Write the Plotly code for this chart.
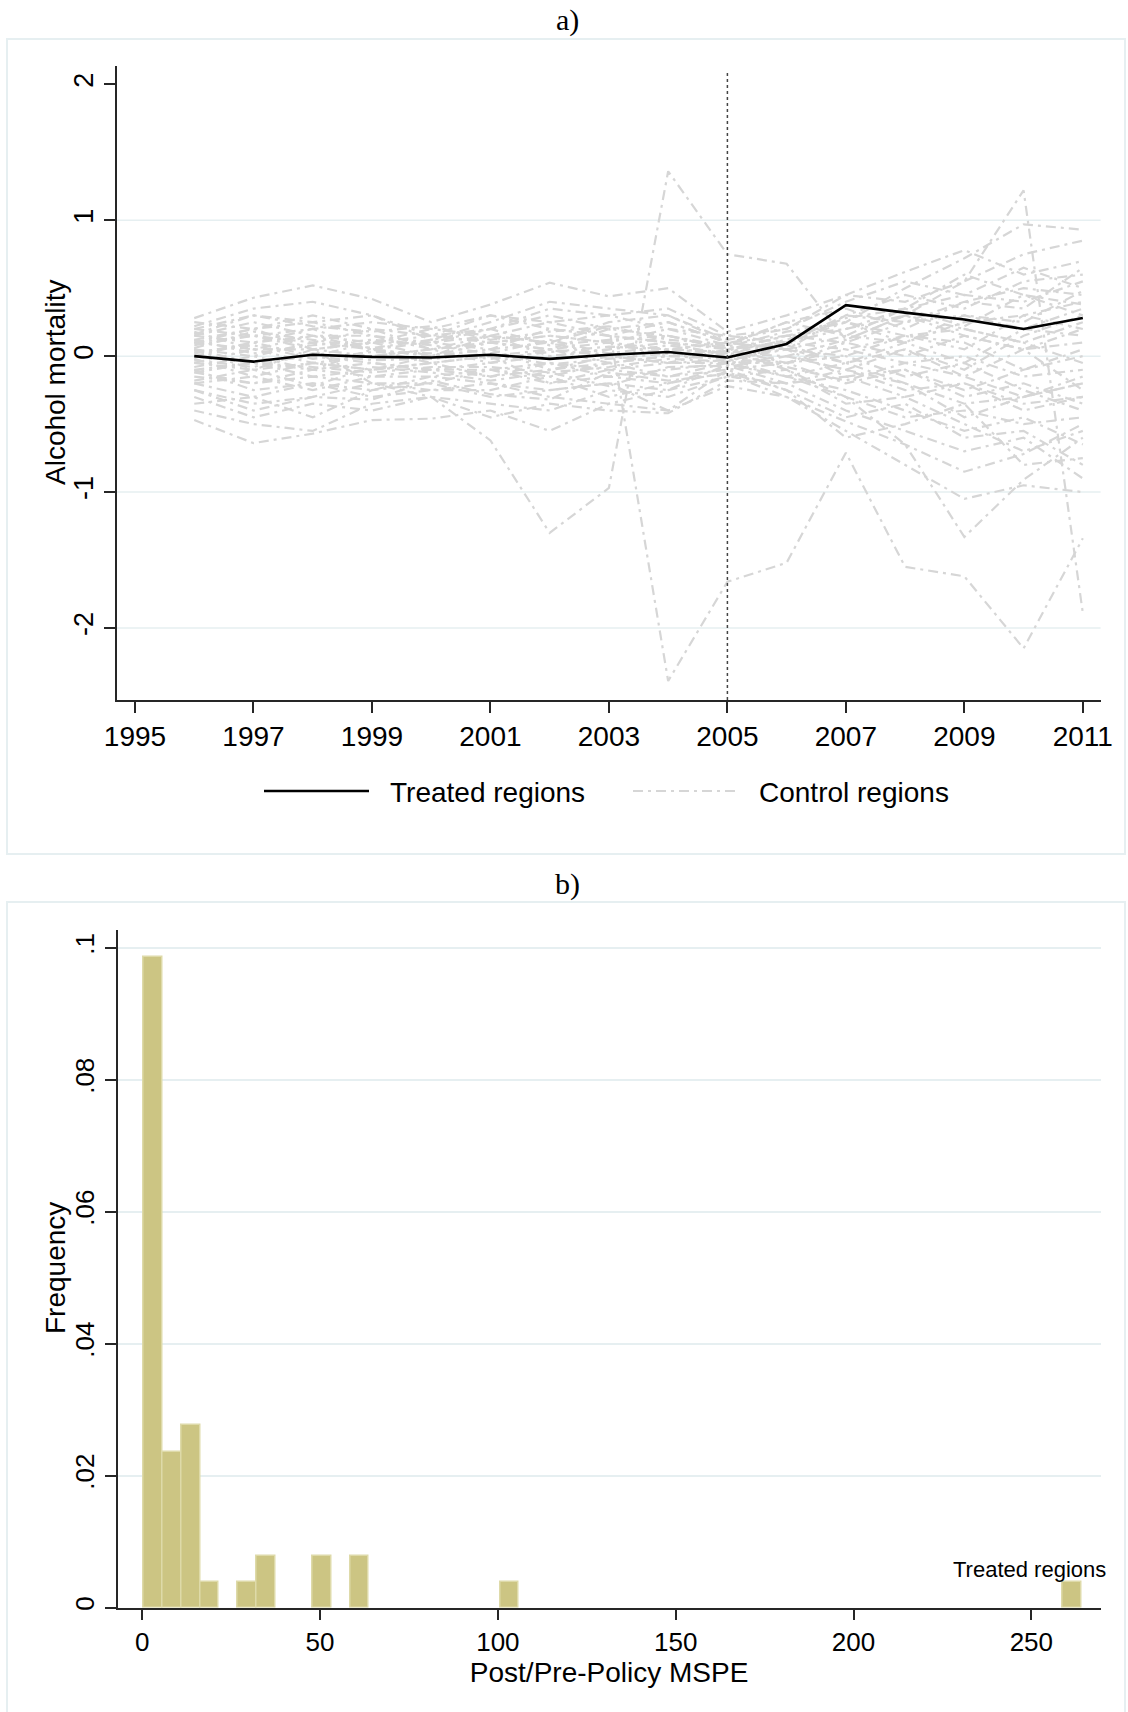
import plotly.graph_objects as go

W, H = 1128, 1712

# ---------------- Panel a data ----------------
years = list(range(1996, 2012))
treated = [0.00, -0.04, 0.01, -0.005, -0.01, 0.01, -0.02, 0.01, 0.03, -0.01, 0.09, 0.375, 0.32, 0.27, 0.20, 0.28]

ctrl_01 = [0.28, 0.43, 0.52, 0.42, 0.25, 0.38, 0.54, 0.44, 0.50, 0.18, 0.30, 0.45, 0.62, 0.78, 0.60, 0.70]
ctrl_02 = [-0.47, -0.64, -0.57, -0.47, -0.46, -0.40, -0.55, -0.35, -0.40, -0.22, -0.30, -0.55, -0.80, -1.05, -0.95, -1.00]
ctrl_03 = [0.05, -0.10, 0.05, -0.20, -0.30, -0.62, -1.30, -0.97, 1.36, 0.75, 0.68, 0.12, 0.30, 0.20, 0.10, 0.25]
ctrl_04 = [0.10, 0.20, 0.05, 0.10, 0.00, 0.15, 0.10, 0.22, -2.39, -1.66, -1.52, -0.71, -1.55, -1.62, -2.15, -1.34]
ctrl_05 = [-0.10, -0.05, -0.15, -0.10, -0.05, 0.00, -0.20, -0.10, -0.05, 0.05, -0.10, -0.30, -0.65, -1.33, -0.91, -0.60]
ctrl_06 = [0.15, 0.10, 0.20, 0.05, 0.10, 0.20, 0.30, 0.20, 0.25, 0.10, 0.15, 0.20, 0.30, 0.55, 1.22, -1.89]
ctrl_07 = [0.20, 0.30, 0.25, 0.30, 0.15, 0.20, 0.35, 0.30, 0.35, 0.15, 0.10, 0.25, 0.50, 0.72, 0.97, 0.93]
ctrl_08 = [0.22, 0.35, 0.40, 0.30, 0.12, 0.25, 0.40, 0.35, 0.30, 0.12, 0.20, 0.45, 0.40, 0.55, 0.75, 0.85]
ctrl_09 = [-0.30, -0.45, -0.35, -0.40, -0.30, -0.35, -0.40, -0.25, -0.30, -0.15, -0.20, -0.40, -0.55, -0.70, -0.60, -0.90]
ctrl_10 = [-0.35, -0.30, -0.45, -0.25, -0.20, -0.30, -0.25, -0.20, -0.40, -0.10, -0.25, -0.60, -0.50, -0.35, -0.80, -0.75]
ctrl_11 = [0.10, 0.15, 0.10, 0.20, 0.05, 0.10, 0.15, 0.10, 0.20, 0.08, 0.25, 0.35, 0.20, 0.40, 0.50, 0.45]
ctrl_12 = [-0.05, 0.05, -0.05, 0.00, 0.05, -0.05, 0.00, 0.05, 0.10, 0.00, 0.05, 0.15, 0.10, 0.25, 0.30, 0.20]
ctrl_13 = [0.05, 0.00, 0.10, 0.05, 0.00, 0.05, 0.10, 0.00, -0.05, -0.05, 0.00, -0.10, -0.25, -0.20, -0.35, -0.30]
ctrl_14 = [-0.15, -0.20, -0.10, -0.15, -0.10, -0.15, -0.05, -0.15, -0.10, -0.05, -0.15, -0.25, -0.40, -0.55, -0.45, -0.65]
ctrl_15 = [0.00, 0.10, 0.00, 0.10, 0.10, 0.05, 0.20, 0.15, 0.10, 0.05, 0.10, 0.05, 0.15, 0.10, -0.10, 0.05]
ctrl_16 = [-0.20, -0.15, -0.25, -0.15, -0.15, -0.10, -0.15, -0.05, -0.15, -0.10, -0.05, 0.00, -0.15, -0.05, -0.25, -0.40]
ctrl_17 = [0.15, 0.25, 0.15, 0.10, 0.20, 0.30, 0.20, 0.15, 0.25, 0.10, 0.05, 0.30, 0.45, 0.35, 0.55, 0.60]
ctrl_18 = [-0.10, -0.25, -0.20, -0.30, -0.25, -0.20, -0.30, -0.35, -0.25, -0.15, -0.10, -0.35, -0.30, -0.50, -0.70, -0.55]
ctrl_19 = [0.05, -0.05, 0.00, -0.05, -0.10, -0.05, 0.05, 0.00, 0.05, 0.02, 0.10, 0.20, 0.35, 0.45, 0.40, 0.55]
ctrl_20 = [-0.25, -0.35, -0.30, -0.20, -0.25, -0.25, -0.15, -0.30, -0.20, -0.08, 0.00, -0.10, -0.20, -0.35, -0.30, -0.20]
ctrl_21 = [0.18, 0.05, 0.15, 0.15, 0.05, 0.10, 0.05, 0.20, 0.15, 0.05, -0.05, -0.20, -0.10, -0.25, -0.10, 0.00]
ctrl_22 = [-0.05, -0.10, -0.05, -0.10, 0.00, 0.05, -0.10, -0.05, 0.00, -0.02, -0.15, -0.05, 0.05, -0.10, 0.15, 0.30]
ctrl_23 = [0.10, 0.05, 0.05, 0.00, 0.05, 0.15, 0.00, 0.05, 0.15, 0.05, 0.15, 0.10, 0.25, 0.30, 0.20, 0.35]
ctrl_24 = [-0.12, -0.20, -0.15, -0.20, -0.20, -0.10, -0.20, -0.15, -0.20, -0.12, -0.25, -0.45, -0.35, -0.60, -0.55, -0.80]
ctrl_25 = [0.25, 0.20, 0.30, 0.20, 0.15, 0.30, 0.25, 0.30, 0.20, 0.15, 0.20, 0.40, 0.55, 0.45, 0.65, 0.50]
ctrl_26 = [-0.40, -0.50, -0.55, -0.35, -0.30, -0.45, -0.35, -0.40, -0.42, -0.18, -0.20, -0.15, -0.30, -0.20, -0.40, -0.30]
ctrl_27 = [0.00, -0.05, -0.10, 0.05, -0.05, 0.00, 0.05, -0.05, 0.00, 0.00, -0.05, 0.10, 0.00, 0.15, 0.05, 0.10]
ctrl_28 = [0.08, 0.15, 0.05, 0.10, 0.15, 0.10, 0.15, 0.10, 0.05, 0.10, 0.05, -0.05, 0.10, -0.05, 0.20, 0.15]
ctrl_29 = [-0.08, 0.00, -0.10, -0.05, -0.10, -0.10, -0.05, -0.10, -0.15, -0.05, -0.05, 0.05, -0.05, 0.00, -0.15, -0.10]
ctrl_30 = [0.12, 0.20, 0.25, 0.15, 0.10, 0.15, 0.25, 0.15, 0.10, 0.06, 0.10, 0.30, 0.25, 0.40, 0.35, 0.65]
ctrl_31 = [-0.20, -0.30, -0.20, -0.25, -0.15, -0.20, -0.25, -0.20, -0.25, -0.06, -0.15, -0.30, -0.45, -0.40, -0.50, -0.45]
ctrl_32 = [0.02, 0.10, 0.15, 0.05, 0.00, 0.10, 0.05, 0.10, 0.00, 0.04, 0.15, 0.25, 0.15, 0.20, 0.10, -0.05]
ctrl_33 = [-0.02, -0.15, -0.05, -0.10, -0.05, -0.15, -0.10, 0.00, -0.05, -0.03, 0.05, -0.15, -0.10, -0.30, -0.20, -0.35]
ctrl_34 = [0.20, 0.15, 0.20, 0.25, 0.20, 0.15, 0.10, 0.25, 0.30, 0.10, 0.05, 0.00, 0.15, 0.05, 0.30, 0.40]
ctrl_35 = [0.03, 0.08, -0.02, 0.03, 0.02, -0.02, 0.03, 0.07, 0.05, 0.03, 0.12, 0.28, 0.35, 0.22, 0.45, 0.38]
ctrl_36 = [-0.03, -0.08, 0.02, -0.03, -0.02, 0.02, -0.06, -0.02, 0.02, -0.01, -0.08, -0.18, -0.05, -0.15, -0.30, -0.20]
ctrl_37 = [0.12, 0.02, 0.08, 0.12, 0.08, 0.02, 0.12, 0.02, 0.08, 0.02, 0.00, 0.12, 0.30, 0.15, 0.05, 0.20]
ctrl_38 = [-0.12, -0.05, -0.08, -0.12, -0.08, -0.08, -0.12, -0.08, -0.02, -0.04, 0.08, -0.05, -0.20, -0.45, -0.30, -0.15]
ctrl_39 = [0.06, 0.18, 0.12, 0.06, 0.12, 0.20, 0.08, 0.12, 0.15, 0.07, 0.18, 0.25, 0.10, 0.30, 0.25, 0.48]
ctrl_40 = [-0.18, -0.10, -0.22, -0.08, -0.12, -0.18, -0.12, -0.22, -0.08, -0.07, -0.20, -0.10, 0.05, -0.15, 0.05, -0.25]
ctrl_41 = [0.16, 0.30, 0.22, 0.18, 0.22, 0.12, 0.18, 0.22, 0.12, 0.09, 0.25, 0.15, 0.35, 0.60, 0.45, 0.30]
ctrl_42 = [-0.25, -0.40, -0.30, -0.32, -0.18, -0.28, -0.32, -0.12, -0.18, -0.13, -0.30, -0.48, -0.65, -0.85, -0.72, -0.50]

controls = [ctrl_01, ctrl_02, ctrl_03, ctrl_04, ctrl_05, ctrl_06, ctrl_07, ctrl_08, ctrl_09,
            ctrl_10, ctrl_11, ctrl_12, ctrl_13, ctrl_14, ctrl_15, ctrl_16, ctrl_17, ctrl_18,
            ctrl_19, ctrl_20, ctrl_21, ctrl_22, ctrl_23, ctrl_24, ctrl_25, ctrl_26, ctrl_27,
            ctrl_28, ctrl_29, ctrl_30, ctrl_31, ctrl_32, ctrl_33, ctrl_34, ctrl_35, ctrl_36,
            ctrl_37, ctrl_38, ctrl_39, ctrl_40, ctrl_41, ctrl_42]

policy_year = 2005
a_xticks = [1995, 1997, 1999, 2001, 2003, 2005, 2007, 2009, 2011]
a_yticks = [-2, -1, 0, 1, 2]
a_yticklabels = ["-2", "-1", "0", "1", "2"]
a_gridlines = [-2, -1, 0, 1]

# ---------------- Panel b data ----------------
bin_width = 5.27
bin_left = [0.46, 5.73, 11.00, 16.27, 26.81, 32.08, 47.89, 58.43, 100.60, 258.70]
bin_density = [0.0986, 0.0236, 0.0276, 0.0039, 0.0039, 0.0078, 0.0078, 0.0078, 0.0039, 0.0039]
b_xticks = [0, 50, 100, 150, 200, 250]
b_yticks = [0, 0.02, 0.04, 0.06, 0.08, 0.1]
b_yticklabels = ["0", ".02", ".04", ".06", ".08", ".1"]
treated_label_pos = (249.5, 0.0058)

# ---------------- helpers ----------------
def px(x):
    return x / W

def py(y):
    return 1 - y / H

SANS = "Liberation Sans, Arial, sans-serif"
SERIF = "Liberation Serif, Times New Roman, serif"
AXIS_COL = "#262626"
GRID_COL = "#e6eff1"
BOX_COL = "#e6eff1"
CTRL_COL = "#d6d6d6"
CTRL_DASH = "10px,5px,3px,5px"
BAR_FILL = "#ccc583"
BAR_LINE = "#dedaa9"

fig = go.Figure()

for series in controls:
    fig.add_trace(go.Scatter(x=years, y=series, mode="lines", xaxis="x", yaxis="y",
                             line=dict(color=CTRL_COL, width=2.2, dash=CTRL_DASH),
                             showlegend=False, hoverinfo="skip"))

fig.add_trace(go.Scatter(x=years, y=treated, mode="lines", xaxis="x", yaxis="y",
                         line=dict(color="black", width=2.6), showlegend=False))

fig.add_trace(go.Bar(x=[l + bin_width / 2 for l in bin_left], y=bin_density,
                     width=[bin_width] * len(bin_left), xaxis="x2", yaxis="y2",
                     marker=dict(color=BAR_FILL, line=dict(color=BAR_LINE, width=1.5)),
                     showlegend=False))

def axis_common(size):
    return dict(showline=True, linecolor=AXIS_COL, linewidth=1.5, ticks="outside",
                ticklen=11, tickwidth=1.5, tickcolor=AXIS_COL, zeroline=False, automargin=False,
                tickfont=dict(family=SANS, size=size, color="black"), mirror=False)

fig.update_layout(
    width=W, height=H, margin=dict(l=0, r=0, t=0, b=0, autoexpand=False),
    paper_bgcolor="white", plot_bgcolor="white", showlegend=False, bargap=0,
    xaxis=dict(domain=[px(117), px(1100.6)], range=[1994.696, 2011.30], anchor="y",
               tickvals=a_xticks, showgrid=False, **axis_common(28)),
    yaxis=dict(domain=[py(700), py(66)], range=[-2.5297, 2.1346], anchor="x",
               tickvals=a_yticks, ticktext=a_yticklabels, tickangle=-90, showgrid=False,
               **axis_common(27)),
    xaxis2=dict(domain=[px(117.5), px(1100.7)], range=[-6.95, 269.5], anchor="y2",
                tickvals=b_xticks, showgrid=False,
                title=dict(text="Post/Pre-Policy MSPE", font=dict(family=SANS, size=28, color="black"),
                           standoff=2),
                **axis_common(26)),
    yaxis2=dict(domain=[py(1607.5), py(930)], range=[0, 0.10268], anchor="x2",
                tickvals=b_yticks, ticktext=b_yticklabels, tickangle=-90,
                showgrid=True, gridcolor=GRID_COL, gridwidth=1.5,
                **axis_common(26)),
)

shapes = []
# panel borders
shapes.append(dict(type="rect", xref="paper", yref="paper", x0=px(7), x1=px(1125), y0=py(854), y1=py(39),
                   line=dict(color=BOX_COL, width=2), layer="below"))
shapes.append(dict(type="rect", xref="paper", yref="paper", x0=px(7), x1=px(1125), y0=py(1730), y1=py(902),
                   line=dict(color=BOX_COL, width=2), layer="below"))
# gridlines panel a
for g in a_gridlines:
    shapes.append(dict(type="line", xref="x domain", yref="y", x0=0, x1=1, y0=g, y1=g,
                       line=dict(color=GRID_COL, width=1.5), layer="below"))
# policy line
shapes.append(dict(type="line", xref="x", yref="y domain", x0=policy_year, x1=policy_year, y0=0, y1=0.99,
                   line=dict(color="#444444", width=1.5, dash="dot"), layer="above"))
# legend samples
shapes.append(dict(type="line", xref="paper", yref="paper", x0=px(264), x1=px(369), y0=py(791), y1=py(791),
                   line=dict(color="black", width=2.6)))
shapes.append(dict(type="line", xref="paper", yref="paper", x0=px(633), x1=px(738), y0=py(791), y1=py(791),
                   line=dict(color=CTRL_COL, width=2, dash=CTRL_DASH)))
fig.update_layout(shapes=shapes)

annotations = [
    dict(text="a)", x=px(567), y=py(20), xref="paper", yref="paper", showarrow=False,
         font=dict(family=SERIF, size=30, color="black"), xanchor="center", yanchor="middle"),
    dict(text="b)", x=px(567), y=py(884), xref="paper", yref="paper", showarrow=False,
         font=dict(family=SERIF, size=30, color="black"), xanchor="center", yanchor="middle"),
    dict(text="Alcohol mortality", x=px(55), y=py(383), xref="paper", yref="paper", showarrow=False,
         textangle=-90, font=dict(family=SANS, size=28, color="black"),
         xanchor="center", yanchor="middle"),
    dict(text="Frequency", x=px(55), y=py(1268), xref="paper", yref="paper", showarrow=False,
         textangle=-90, font=dict(family=SANS, size=28, color="black"),
         xanchor="center", yanchor="middle"),
    dict(text="Treated regions", x=px(388), y=py(792), xref="paper", yref="paper", showarrow=False,
         font=dict(family=SANS, size=28, color="black"), xanchor="left", yanchor="middle"),
    dict(text="Control regions", x=px(757), y=py(792), xref="paper", yref="paper", showarrow=False,
         font=dict(family=SANS, size=28, color="black"), xanchor="left", yanchor="middle"),
    dict(text="Treated regions", x=treated_label_pos[0], y=treated_label_pos[1], xref="x2", yref="y2",
         showarrow=False, font=dict(family=SANS, size=22, color="black"),
         xanchor="center", yanchor="middle"),
]
fig.update_layout(annotations=annotations)

fig.write_html("out.html")
